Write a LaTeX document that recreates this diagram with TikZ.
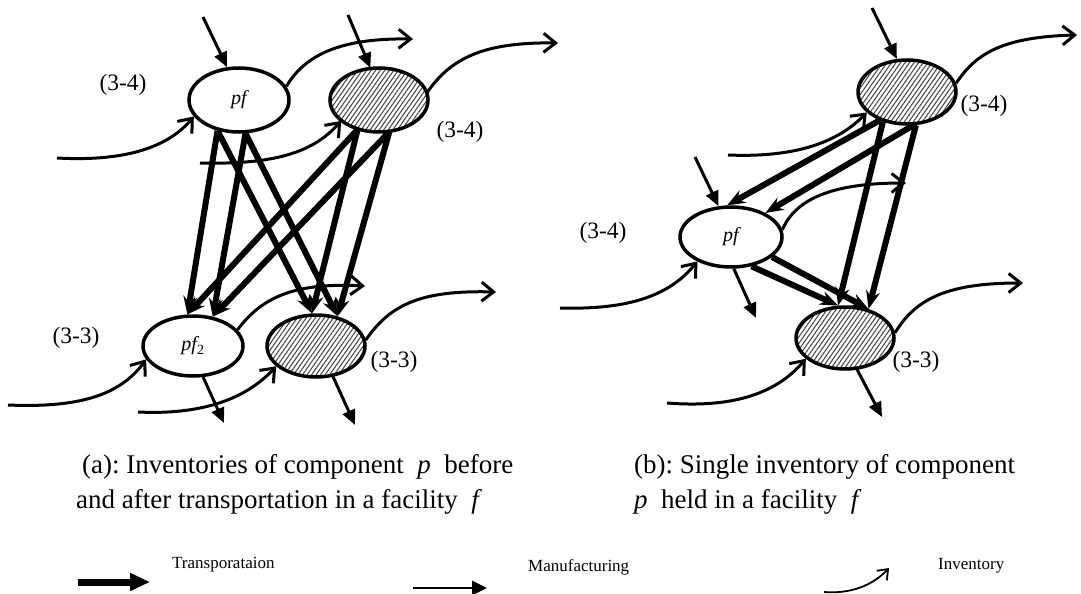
\documentclass[tikz,border=0pt]{standalone}
\usepackage{fontspec}
\setmainfont{Liberation Serif}
\frenchspacing
\usetikzlibrary{arrows.meta,patterns.meta,shapes.geometric}

\tikzset{
  stock/.style={ellipse, draw, line width=3.5pt, inner sep=0pt,
    font=\fontsize{20}{22}\selectfont\itshape},
  hatched/.style={stock, pattern={Lines[angle=55,distance=3.7pt,line width=1.1pt]},
    pattern color=black!70},
  transport/.style={line width=6pt, -{Stealth[length=18pt,width=14pt,inset=6pt]}},
  manuf/.style={line width=3pt, -{Triangle[length=15pt,width=13pt]}},
  invflow/.style={line width=3pt, -{Straight Barb[length=12pt,width=19pt]}},
  lbl/.style={font=\fontsize{23.5}{26}\selectfont},
  captext/.style={anchor=base west, inner sep=0pt, font=\fontsize{27}{30}\selectfont},
  legtext/.style={anchor=west, inner sep=0pt, font=\fontsize{17}{19}\selectfont},
}

\begin{document}
\begin{tikzpicture}[x=1pt,y=-1pt]
\useasboundingbox (0,0) rectangle (1081,594);

% ---------------- (a) two inventories per facility ----------------
\node[stock, minimum width=100pt, minimum height=64pt] (pf)  at (239,100) {pf};
\node[hatched, minimum width=98pt, minimum height=64pt] (ht)  at (379,100) {};
\node[stock, minimum width=100pt, minimum height=60pt] (pfb) at (193,346) {pf\textsubscript{\upshape 2}};
\node[hatched, minimum width=98pt, minimum height=62pt] (hb)  at (316,346) {};

\node[lbl] (la1) at (123,85)  {(3-4)};
\node[lbl] (la2) at (460,132) {(3-4)};
\node[lbl] (la3) at (76,338)  {(3-3)};
\node[lbl] (la4) at (394,362) {(3-3)};

% free ends
\coordinate (mA1) at (203,17);
\coordinate (mA2) at (348,15);
\coordinate (iA1) at (57,158);
\coordinate (iA2) at (200,163);
\coordinate (oA1) at (413,39);
\coordinate (oA2) at (558,43);
\coordinate (iA3) at (8,405);
\coordinate (iA4) at (138,412);
\coordinate (oA3) at (365,286);
\coordinate (oA4) at (496,292);
\coordinate (dA1) at (224,423);
\coordinate (dA2) at (355,425);

% manufacturing flows
\draw[manuf] (mA1) -- (pf.110);
\draw[manuf] (mA2) -- (ht.105);
\draw[manuf] (pfb.288) -- (dA1);
\draw[manuf] (hb.299) -- (dA2);

% inventory flows
\draw[invflow] (iA1) .. controls (130,162) and (170,145) .. (pf.200);
\draw[invflow] (iA2) .. controls (280,165) and (315,150) .. (ht.209);
\draw[invflow] (pf.16) .. controls (305,55) and (340,38) .. (oA1);
\draw[invflow] (ht.9) .. controls (450,60) and (480,42) .. (oA2);
\draw[invflow] (iA3) .. controls (80,408) and (120,395) .. (pfb.196);
\draw[invflow] (iA4) .. controls (200,415) and (245,400) .. (hb.207);
\draw[invflow] (pfb.20) .. controls (260,300) and (290,282) .. (oA3);
\draw[invflow] (hb.7) .. controls (390,305) and (420,290) .. (oA4);

% transportation flows
\draw[transport] (pf.235) -- (pfb.100);
\draw[transport] (pf.281) -- (pfb.56);
\draw[transport] (pf.235) -- (hb.97);
\draw[transport] (pf.281) -- (hb.54);
\draw[transport] (ht.234) -- (pfb.100);
\draw[transport] (ht.288) -- (pfb.56);
\draw[transport] (ht.234) -- (hb.97);
\draw[transport] (ht.288) -- (hb.54);

% ---------------- (b) single inventory per facility ----------------
\node[hatched, minimum width=98pt, minimum height=64pt] (ht2) at (907,92) {};
\node[stock, minimum width=102pt, minimum height=60pt] (pf2) at (731,237) {pf};
\node[hatched, minimum width=98pt, minimum height=62pt] (hb2) at (845,338) {};

\node[lbl] (lb1) at (984,106) {(3-4)};
\node[lbl] (lb2) at (603,233) {(3-4)};
\node[lbl] (lb3) at (916,362) {(3-3)};

\coordinate (mB1) at (872,8);
\coordinate (mB2) at (695,157);
\coordinate (dB1) at (756,318);
\coordinate (dB2) at (882,417);
\coordinate (iB1) at (728,155);
\coordinate (iB2) at (560,308);
\coordinate (iB3) at (667,403);
\coordinate (oB1) at (1077,35);
\coordinate (oB2) at (906,183);
\coordinate (oB3) at (1023,283);

\draw[manuf] (mB1) -- (ht2.107);
\draw[manuf] (mB2) -- (pf2.112);
\draw[manuf] (pf2.275) -- (dB1);
\draw[manuf] (hb2.291) -- (dB2);

\draw[invflow] (iB1) .. controls (800,158) and (840,140) .. (ht2.207);
\draw[invflow] (ht2.10) .. controls (975,55) and (1000,37) .. (oB1);
\draw[invflow] (iB2) .. controls (630,310) and (670,295) .. (pf2.216);
\draw[invflow] (pf2.8) .. controls (795,200) and (830,183) .. (oB2);
\draw[invflow] (iB3) .. controls (730,408) and (775,395) .. (hb2.208);
\draw[invflow] (hb2.6) .. controls (915,300) and (945,283) .. (oB3);

\draw[transport] (ht2.226) -- (pf2.97);
\draw[transport] (ht2.280) -- (pf2.35);
\draw[transport] (ht2.231) -- (hb2.102);
\draw[transport] (ht2.285) -- (hb2.51);
\draw[transport] (pf2.305) -- (hb2.102);
\draw[transport] (pf2.334) -- (hb2.51);

% ---------------- captions ----------------
\node[captext] (ca1) at (82,473) {(a): Inventories of component \ \textit{p}\ \ before};
\node[captext] (ca2) at (76,508) {and after transportation in a facility \ \textit{f}};
\node[captext] (cb1) at (634,473) {(b): Single inventory of component};
\node[captext] (cb2) at (634,508) {\textit{p}\ \ held in a facility \ \textit{f}};

% ---------------- legend ----------------
\coordinate (t0) at (78,582);   \coordinate (t1) at (150,582);
\coordinate (m0) at (413,588);  \coordinate (m1) at (487,588);
\coordinate (v0) at (824,592);  \coordinate (v1) at (889,568);
\draw[line width=7pt, -{Triangle[length=20pt,width=17pt]}] (t0) -- (t1);
\draw[line width=2.6pt, -{Triangle[length=15pt,width=14pt]}] (m0) -- (m1);
\draw[line width=1.8pt, -{Straight Barb[length=9pt,width=14pt]}]
  (v0) .. controls (850,594) and (872,586) .. (v1);
\node[legtext] (lt) at (172,565) {Transporataion};
\node[legtext] (lm) at (528,567) {Manufacturing};
\node[legtext] (lv) at (938,566) {Inventory};
\end{tikzpicture}
\end{document}
